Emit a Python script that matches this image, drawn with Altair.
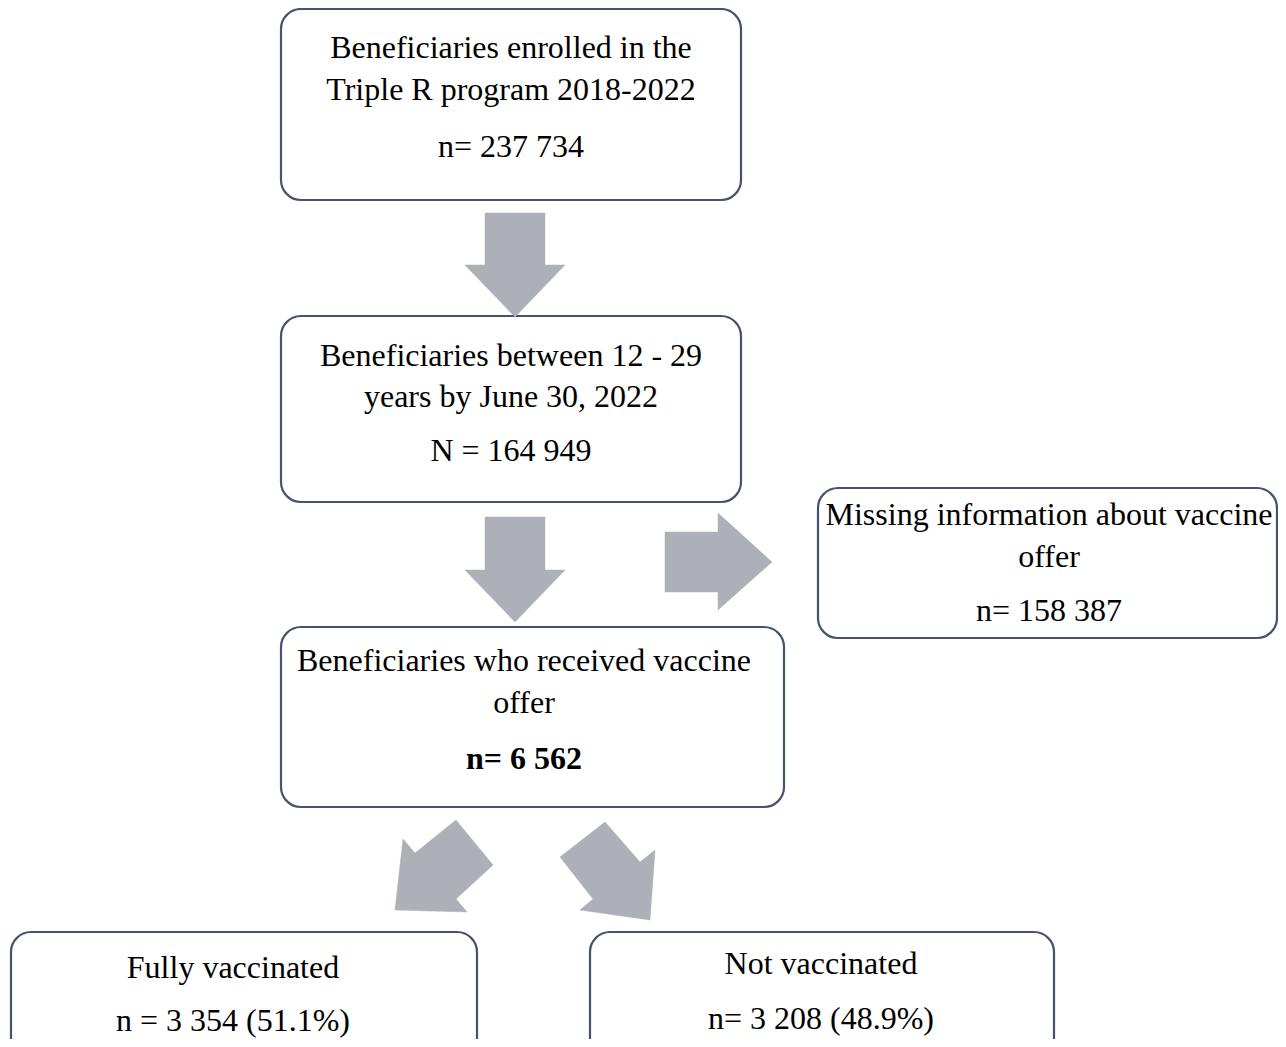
import altair as alt
import pandas as pd

# ---------------- content ----------------
box_lines = [
    ["Beneficiaries enrolled in the", "Triple R program 2018-2022", "n= 237 734"],
    ["Beneficiaries between 12 - 29", "years by June 30, 2022", "N = 164 949"],
    ["Missing information about vaccine", "offer", "n= 158 387"],
    ["Beneficiaries who received vaccine", "offer", "n= 6 562"],
    ["Fully vaccinated", "n = 3 354 (51.1%)"],
    ["Not vaccinated", "n= 3 208 (48.9%)"],
]
bold_lines = [(3, 2)]

# ---------------- layout (page pixel space) ----------------
box_x0 = [281, 281, 818, 281, 11, 590]
box_x1 = [741, 741, 1277, 784, 477, 1054]
box_y0 = [9, 316, 488, 627, 932, 932]
box_y1 = [200, 502, 638, 807, 1075, 1075]
text_cx = [511, 511, 1049, 524, 233, 821]
text_base = [[58, 100, 157], [366, 407, 461], [525, 567, 621],
             [671, 713, 769], [978, 1031], [974, 1029]]

arrow_shapes = [
    [(485, 213), (545, 213), (545, 265), (565, 265), (515, 317), (465, 265), (485, 265)],
    [(485, 517), (545, 517), (545, 570), (565, 570), (515, 622), (465, 570), (485, 570)],
    [(665, 532), (718, 532), (718, 513), (772, 562), (718, 610), (718, 592), (665, 592)],
    [(456, 820), (493, 865), (456, 899), (467, 912), (395, 910), (403, 839), (415, 853)],
    [(605, 822), (640, 862), (655, 850), (650, 920), (580, 910), (593, 899), (560, 857)],
]

BORDER = "#44546a"
ARROW = "#adb0b7"
FONT = "Liberation Serif"

boxes = pd.DataFrame({"x0": box_x0, "x1": box_x1, "y0": box_y0, "y1": box_y1})

rows = []
for i, lines in enumerate(box_lines):
    for j, t in enumerate(lines):
        rows.append({"x": text_cx[i], "y": text_base[i][j], "text": t,
                     "bold": (i, j) in bold_lines})
texts = pd.DataFrame(rows)

features = []
for pts in arrow_shapes:
    ring = [list(p) for p in pts] + [list(pts[0])]
    features.append({"type": "Feature", "properties": {},
                     "geometry": {"type": "Polygon", "coordinates": [ring]}})

xs = alt.Scale(domain=[8, 1278], nice=False, zero=False)
ys = alt.Scale(domain=[1039, 8], nice=False, zero=False)

rect_layer = alt.Chart(boxes).mark_rect(
    cornerRadius=20, fill="white", stroke=BORDER, strokeWidth=2.2
).encode(
    x=alt.X("x0:Q", scale=xs, axis=None), x2="x1:Q",
    y=alt.Y("y0:Q", scale=ys, axis=None), y2="y1:Q",
)

arrow_layer = alt.Chart(alt.Data(values=features)).mark_geoshape(
    fill=ARROW, stroke=ARROW, strokeWidth=0.5
).project(type="identity", scale=1, translate=[-8, -8])

text_base_chart = alt.Chart(texts).encode(
    x=alt.X("x:Q", scale=xs, axis=None),
    y=alt.Y("y:Q", scale=ys, axis=None),
    text="text:N",
)
text_normal = text_base_chart.transform_filter("!datum.bold").mark_text(
    font=FONT, fontSize=32, baseline="alphabetic", align="center", color="black"
)
text_bold = text_base_chart.transform_filter("datum.bold").mark_text(
    font=FONT, fontSize=32, fontWeight="bold", baseline="alphabetic", align="center", color="black"
)

chart = alt.layer(rect_layer, arrow_layer, text_normal, text_bold).properties(
    width=1270, height=1031, padding=0, autosize=alt.AutoSizeParams(type="none"),
    background="white"
).configure_view(stroke=None)

chart.save("out.html", embed_options={"renderer": "svg", "actions": False})
